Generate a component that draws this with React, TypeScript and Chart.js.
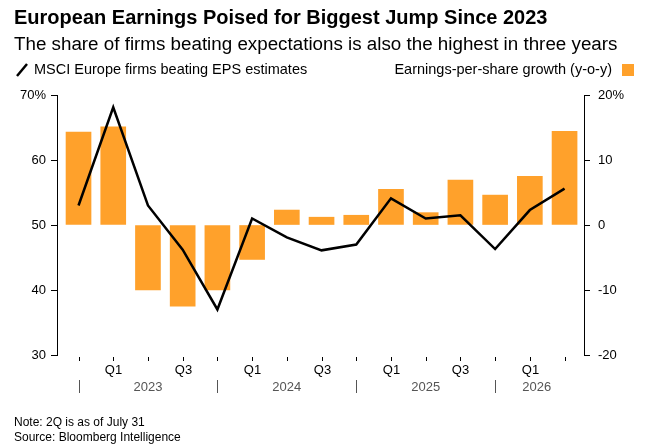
import React, { useEffect, useRef } from "react";
import { Chart, registerables } from "chart.js";
Chart.register(...registerables);

const quarters = ["Q4 2022","Q1 2023","Q2 2023","Q3 2023","Q4 2023","Q1 2024","Q2 2024","Q3 2024","Q4 2024","Q1 2025","Q2 2025","Q3 2025","Q4 2025","Q1 2026","Q2 2026"];
const quarterLabels = ["", "Q1", "", "Q3", "", "Q1", "", "Q3", "", "Q1", "", "Q3", "", "Q1", ""];
const years = ["2023", "2024", "2025", "2026"];
const epsGrowth = [14.3, 15.1, -10, -12.5, -10, -5.3, 2.3, 1.2, 1.5, 5.5, 1.9, 6.9, 4.6, 7.5, 14.4];
const beatingShare = [53.0, 68.1, 53.0, 46.2, 37.0, 51.0, 48.1, 46.1, 47.0, 54.1, 51.0, 51.5, 46.3, 52.3, 55.6];
const leftTicks = [30, 40, 50, 60, 70];
const rightTicks = [-20, -10, 0, 10, 20];

const FONT = "'Liberation Sans', Arial, sans-serif";
const ORANGE = "#ffa12b";

export default function App() {
  const ref = useRef<HTMLCanvasElement>(null);
  useEffect(() => {
    document.body.style.margin = "0";
    const textPlugin = {
      id: "texts",
      afterDraw(chart: any) {
        const c = chart.ctx;
        const xs = chart.scales.x;
        const bottom = chart.chartArea.bottom;
        c.save();
        c.fillStyle = "#000";
        c.textBaseline = "middle";
        c.textAlign = "left";
        c.font = `bold 20px ${FONT}`;
        c.fillText("European Earnings Poised for Biggest Jump Since 2023", 14, 18);
        c.font = `18.8px ${FONT}`;
        c.fillText("The share of firms beating expectations is also the highest in three years", 14, 45);
        c.font = `14.5px ${FONT}`;
        c.fillText("MSCI Europe firms beating EPS estimates", 34, 70);
        c.lineWidth = 2.5;
        c.strokeStyle = "#000";
        c.beginPath(); c.moveTo(17, 76); c.lineTo(27, 64); c.stroke();
        c.textAlign = "right";
        c.fillText("Earnings-per-share growth (y-o-y)", 612, 70);
        c.fillStyle = ORANGE;
        c.fillRect(622, 64, 12, 12);
        c.fillStyle = "#000";
        c.strokeStyle = "#000";
        c.lineWidth = 1;
        c.textAlign = "center";
        c.font = `13px ${FONT}`;
        quarters.forEach((_, i) => {
          const x = Math.round(xs.getPixelForValue(i)) + 0.5;
          c.beginPath(); c.moveTo(x, bottom + 2); c.lineTo(x, bottom + 6); c.stroke();
          if (quarterLabels[i]) c.fillText(quarterLabels[i], x, bottom + 15);
        });
        c.strokeStyle = "#555";
        c.fillStyle = "#555";
        years.forEach((y, k) => {
          const x0 = Math.round(xs.getPixelForValue(k * 4)) + 0.5;
          c.beginPath(); c.moveTo(x0, bottom + 25); c.lineTo(x0, bottom + 38); c.stroke();
          const mid = xs.getPixelForValue(k < 3 ? k * 4 + 2 : 13.2);
          c.fillText(y, mid, bottom + 32);
        });
        c.fillStyle = "#000";
        c.textAlign = "left";
        c.font = `12px ${FONT}`;
        c.fillText("Note: 2Q is as of July 31", 14, 423);
        c.fillText("Source: Bloomberg Intelligence", 14, 438);
        c.restore();
      },
    };
    const chart = new Chart(ref.current!, {
      data: {
        datasets: [
          {
            type: "line",
            data: beatingShare.map((v, i) => ({ x: i, y: v })),
            yAxisID: "y",
            borderColor: "#000",
            borderWidth: 2.5,
            pointRadius: 0,
            tension: 0,
            order: 0,
          },
          {
            type: "bar",
            data: epsGrowth.map((v, i) => ({ x: i, y: v })),
            yAxisID: "y2",
            backgroundColor: ORANGE,
            barThickness: 25,
            order: 1,
          },
        ],
      } as any,
      options: {
        animation: false,
        responsive: false,
        layout: { padding: { top: 95, bottom: 93, left: 0, right: 0 } },
        plugins: { legend: { display: false }, tooltip: { enabled: false } },
        scales: {
          x: { type: "linear", display: false, offset: false, min: -0.62, max: 14.56 },
          y: {
            position: "left",
            min: 30, max: 70,
            afterBuildTicks: (s: any) => { s.ticks = leftTicks.map((v) => ({ value: v })); },
            afterFit: (s: any) => { s.width = 57; },
            grid: { drawOnChartArea: false, drawTicks: true, tickLength: 6, color: "#000" },
            border: { display: true, color: "#000" },
            ticks: { color: "#000", padding: 5, font: { family: FONT, size: 13 }, callback: (v: any) => (v === 70 ? "70%" : String(v)) },
          },
          y2: {
            position: "right",
            min: -20, max: 20,
            afterBuildTicks: (s: any) => { s.ticks = rightTicks.map((v) => ({ value: v })); },
            afterFit: (s: any) => { s.width = 651 - 584; },
            grid: { drawOnChartArea: false, drawTicks: true, tickLength: 6, color: "#000" },
            border: { display: true, color: "#000" },
            ticks: { color: "#000", padding: 8, font: { family: FONT, size: 13 }, callback: (v: any) => (v === 20 ? "20%" : String(v)) },
          },
        },
      } as any,
      plugins: [textPlugin],
    });
    return () => chart.destroy();
  }, []);
  return <canvas ref={ref} width={651} height={448} style={{ display: "block" }} />;
}
